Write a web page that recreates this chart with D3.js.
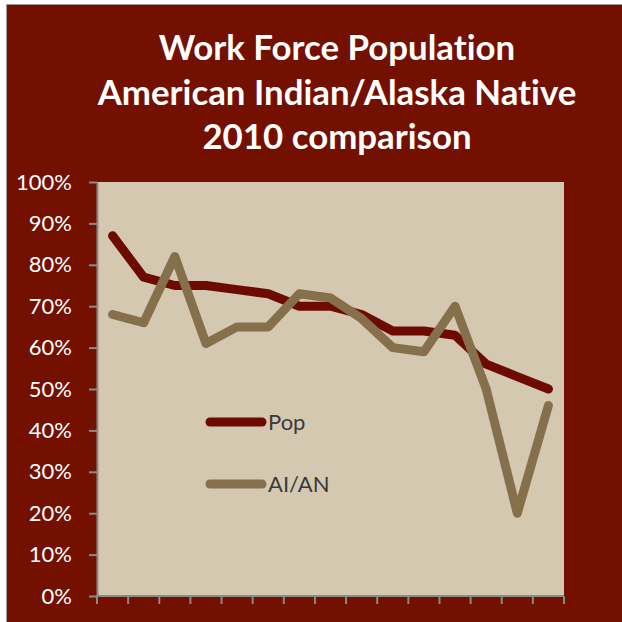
<!DOCTYPE html>
<html>
<head>
<meta charset="utf-8">
<script src="https://cdn.jsdelivr.net/npm/d3@7"></script>
<style>
  html, body { margin: 0; padding: 0; background: #ffffff; }
  svg { display: block; }
  text { font-variant-ligatures: none; font-feature-settings: "liga" 0, "clig" 0; }
</style>
</head>
<body>
<svg id="chart" width="622" height="622"></svg>
<script>
// Work force participation by group, 15 comparison points
const categories = d3.range(1, 16).map(String);
const popValues  = [87, 77, 75, 75, 74, 73, 70, 70, 68, 64, 64, 63, 56, 53, 50];
const aianValues = [68, 66, 82, 61, 65, 65, 73, 72, 67, 60, 59, 70, 50, 20, 46];
const yTicks = [0, 10, 20, 30, 40, 50, 60, 70, 80, 90, 100];
const seriesNames = ["Pop", "AI/AN"];
const titleLines = ["Work Force Population", "American Indian/Alaska Native", "2010 comparison"];

const series = [
  { name: seriesNames[0], values: popValues,  color: "#6e0b00" },
  { name: seriesNames[1], values: aianValues, color: "#86704c" }
];

const svg = d3.select("#chart");
const W = 622, H = 622;
const plot = { left: 97, right: 564, top: 182, bottom: 596 };

// outer chart area with thin grey frame
svg.append("rect").attr("x", 6.5).attr("y", 4.5).attr("width", W).attr("height", H)
  .attr("fill", "#731000").attr("stroke", "#9a9a9a").attr("stroke-width", 1);

// title
const title = svg.append("g").attr("font-family", "Lato, 'Open Sans', sans-serif")
  .attr("font-weight", "bold").attr("fill", "#ffffff").attr("text-anchor", "middle");
const titleY = [60, 105, 149];
titleLines.forEach((t, i) => {
  title.append("text").attr("x", 337).attr("y", titleY[i]).attr("font-size", 30).text(t);
});
// scale title so the widest line spans the intended width
const widest = d3.max(title.selectAll("text").nodes(), n => n.getComputedTextLength());
const titleSize = 30 * 479 / widest;
title.selectAll("text").attr("font-size", titleSize);

// plot background
svg.append("rect").attr("x", plot.left).attr("y", plot.top)
  .attr("width", plot.right - plot.left).attr("height", plot.bottom - plot.top)
  .attr("fill", "#d4c8b1");

const x = d3.scaleBand().domain(categories).range([plot.left, plot.right]);
const y = d3.scaleLinear().domain([0, 100]).range([plot.bottom, plot.top]);

// y axis
const yAxis = svg.append("g").attr("transform", `translate(${plot.left},0)`)
  .call(d3.axisLeft(y).tickValues(yTicks).tickFormat(d => d + "%").tickSize(8).tickSizeOuter(0));
yAxis.select(".domain").attr("stroke", "#8a8a8a").attr("stroke-width", 2);
yAxis.selectAll(".tick line").attr("stroke", "#8a8a8a").attr("stroke-width", 2);
yAxis.selectAll(".tick text").attr("x", -25).attr("fill", "#ffffff")
  .attr("font-family", "Lato, 'Open Sans', sans-serif").attr("font-size", 22);

// x axis: tick marks on category boundaries, no labels
const bounds = categories.map(c => x(c)).concat([plot.right]);
const xAxisG = svg.append("g").attr("transform", `translate(0,${plot.bottom})`);
xAxisG.append("line").attr("x1", plot.left - 1).attr("x2", plot.right)
  .attr("stroke", "#8a8a8a").attr("stroke-width", 2);
xAxisG.selectAll("line.tick").data(bounds).join("line").attr("class", "tick")
  .attr("x1", d => d).attr("x2", d => d).attr("y1", 0).attr("y2", 8)
  .attr("stroke", "#8a8a8a").attr("stroke-width", 2);

// series lines
const line = d3.line()
  .x((d, i) => x(categories[i]) + x.bandwidth() / 2)
  .y(d => y(d));

series.forEach(s => {
  svg.append("path").datum(s.values).attr("d", line)
    .attr("fill", "none").attr("stroke", s.color).attr("stroke-width", 9)
    .attr("stroke-linecap", "round").attr("stroke-linejoin", "round");
});

// legend
const legendY = [422, 484];
series.forEach((s, i) => {
  const g = svg.append("g").attr("transform", `translate(0,${legendY[i]})`);
  g.append("line").attr("x1", 210).attr("x2", 262).attr("y1", 0).attr("y2", 0)
    .attr("stroke", s.color).attr("stroke-width", 9).attr("stroke-linecap", "round");
  g.append("text").attr("x", 268).attr("y", 8).attr("fill", "#3a3a3a")
    .attr("font-family", "Lato, 'Open Sans', sans-serif").attr("font-size", 22).text(s.name);
});
</script>
</body>
</html>
